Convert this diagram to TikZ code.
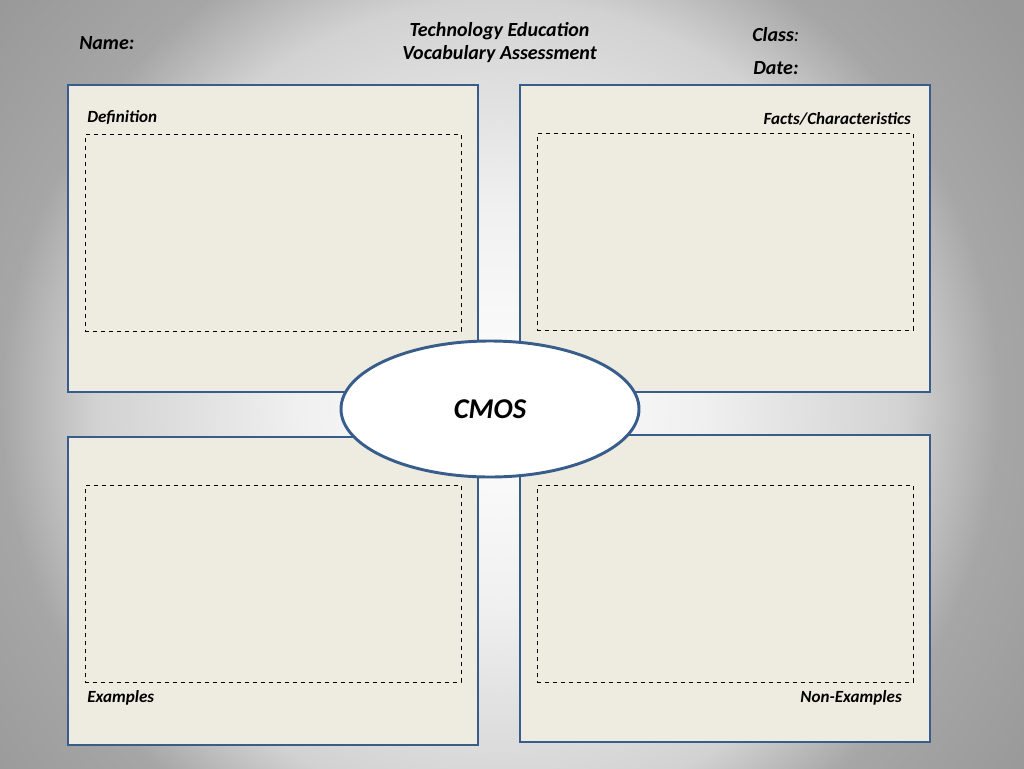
\documentclass[tikz,border=0pt]{standalone}
\usepackage{fontspec}
\setmainfont{Carlito}
\usetikzlibrary{shapes.geometric}
\definecolor{bggray}{HTML}{999999}
\definecolor{glowA}{HTML}{F0F0F0}
\definecolor{glowB}{HTML}{D2D2D2}
\definecolor{glowC}{HTML}{A6A6A6}
\definecolor{cardfill}{HTML}{EEECE1}
\definecolor{cardline}{HTML}{385D8A}
\pgfdeclareradialshading{slideglow}{\pgfpoint{0bp}{0bp}}{color(0bp)=(white); color(7.8bp)=(glowA); color(15.8bp)=(glowB); color(19.5bp)=(glowC); color(25bp)=(bggray); color(50bp)=(bggray)}
\tikzstyle{card}=[shape=rectangle,
                  draw=cardline,
                  fill=cardfill,
                  line width=2.2pt,
                  minimum width=307.5pt,
                  minimum height=230.25pt]
\tikzstyle{answer}=[shape=rectangle,
                    draw=black,
                    dashed,
                    line width=0.5pt,
                    minimum width=282pt,
                    minimum height=147.5pt]
\tikzstyle{hub}=[shape=ellipse,
                 draw=cardline,
                 fill=white,
                 line width=2.2pt,
                 inner sep=0pt,
                 minimum width=223.5pt,
                 minimum height=102pt,
                 font=\fontsize{21.5}{26}\selectfont\bfseries\itshape]
\tikzstyle{lbl}=[inner sep=0pt,font=\fontsize{15}{17.5}\selectfont\bfseries\itshape]
\tikzstyle{small}=[inner sep=0pt,font=\fontsize{12.8}{15}\selectfont\bfseries\itshape]

\begin{document}
\begin{tikzpicture}[x=0.75pt,y=-0.75pt]
\useasboundingbox (0,0) rectangle (1024,768);

% background
\fill[bggray] (0,0) rectangle (1024,768);
\begin{scope}
\clip (0,0) rectangle (1024,768);
\shade[shading=slideglow] (500,405) circle (640);
\end{scope}

% header
\node[lbl,anchor=west] (name) at (79,43) {Name:};
\node[lbl,align=center] (title) at (499.5,42.5) {Technology Education\\Vocabulary Assessment};
\node[lbl,anchor=west] (class) at (752,35) {Class{\mdseries:}};
\node[lbl,anchor=west] (date) at (753,68) {Date:};

% cards
\node[card] (def) at (273,238.5) {};
\node[card] (facts) at (725,238.5) {};
\node[card,minimum height=231pt] (ex) at (273,591) {};
\node[card] (nonex) at (725,588.5) {};

% answer areas
\node[answer] (defbox) at (273,232.5) {};
\node[answer] (factsbox) at (725,231.5) {};
\node[answer] (exbox) at (273,584) {};
\node[answer] (nonexbox) at (725,584) {};

% card labels
\node[small,anchor=west] (deflbl) at (87,118) {Definition};
\node[small,anchor=east] (factslbl) at (911,119) {Facts/Characteristics};
\node[small,anchor=west] (exlbl) at (87,698) {Examples};
\node[small,anchor=east] (nonexlbl) at (902,698) {Non-Examples};

% term
\node[hub] (term) at (490,409) {CMOS};

\end{tikzpicture}
\end{document}
